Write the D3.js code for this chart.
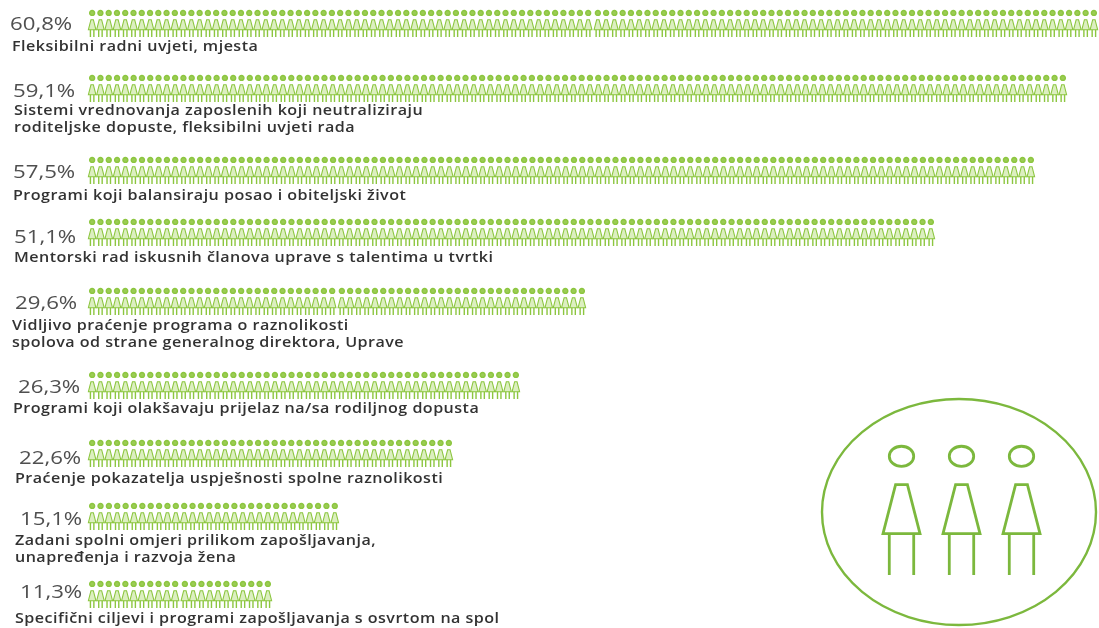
<!DOCTYPE html>
<html>
<head>
<meta charset="utf-8">
<script src="https://cdn.jsdelivr.net/npm/d3@7"></script>
<style>
body { margin: 0; background: #fff; }
svg { display: block; }
text { font-family: "Open Sans", sans-serif; }
.pct { font-size: 19px; fill: #505050; }
.lbl { font-size: 14px; font-weight: 600; fill: #333; letter-spacing: 0.4px; }
</style>
</head>
<body>
<svg id="viz" width="1099" height="628"></svg>
<script>
var percents = ["60,8%", "59,1%", "57,5%", "51,1%", "29,6%", "26,3%", "22,6%", "15,1%", "11,3%"];
// number of little figures counted in each row
var figures = [122, 118, 114, 102, 60, 52, 44, 30, 22];
// figure after which a row shows a small gap, 0 = none visible
var gapAfter = [61, 0, 0, 0, 30, 0, 0, 0, 11];
var labels = [
    ["Fleksibilni radni uvjeti, mjesta"],
    ["Sistemi vrednovanja zaposlenih koji neutraliziraju", "roditeljske dopuste, fleksibilni uvjeti rada"],
    ["Programi koji balansiraju posao i obiteljski život"],
    ["Mentorski rad iskusnih članova uprave s talentima u tvrtki"],
    ["Vidljivo praćenje programa o raznolikosti", "spolova od strane generalnog direktora, Uprave"],
    ["Programi koji olakšavaju prijelaz na/sa rodiljnog dopusta"],
    ["Praćenje pokazatelja uspješnosti spolne raznolikosti"],
    ["Zadani spolni omjeri prilikom zapošljavanja,", "unapređenja i razvoja žena"],
    ["Specifični ciljevi i programi zapošljavanja s osvrtom na spol"]
];
var iconPeople = [0, 1, 2];

// layout of the rows, the source image is not evenly spaced
var rowTop = [10, 75, 157, 219, 288, 372, 440, 503, 581];
var rowRight = [1098, 1067, 1035, 935, 586, 520, 453, 339, 272];
var pctBase = [30, 97, 178, 243, 309, 393, 464, 525, 598];
var pctLeft = [10, 13, 13, 14, 15, 18, 19, 20, 20];
var lblBase = [51, 115, 200, 262, 330, 413, 483, 545, 623];
var lblLeft = [12, 14, 13, 14, 12, 13, 15, 15, 15];

var GREEN = "#8cc63f";
var ICON_GREEN = "#7cb83e";
var svg = d3.select("#viz");
var defs = svg.append("defs");
defs.append("filter").attr("id", "soft").append("feGaussianBlur").attr("stdDeviation", 0.5);
defs.append("filter").attr("id", "softer").append("feGaussianBlur").attr("stdDeviation", 0.4);

var rows = d3.range(percents.length);
var yTop = d3.scaleOrdinal().domain(rows).range(rowTop);

// shape: torso top, hem and leg position as fractions of the figure
function person(g, w, h, sw, shape) {
    var body = d3.line();
    var inset = shape.leg;
    g.append("ellipse")
        .attr("class", "head")
        .attr("cx", w / 2)
        .attr("cy", h * shape.headY)
        .attr("rx", w * 0.33)
        .attr("ry", h * shape.headR);
    g.append("path").attr("class", "torso").attr("d", body([
        [w * 0.34, h * shape.torso], [w * 0.66, h * shape.torso], [w, h * shape.hem], [0, h * shape.hem]
    ]) + "Z");
    g.append("path").attr("d", body([[w * inset, h * shape.hem], [w * inset, h]]));
    g.append("path").attr("d", body([[w * (1 - inset), h * shape.hem], [w * (1 - inset), h]]));
    g.attr("fill", "none").attr("stroke", GREEN).attr("stroke-width", sw);
}

var smallShape = { headY: 0.11, headR: 0.09, torso: 0.36, hem: 0.73, leg: 0.27 };
var bigShape = { headY: 0.08, headR: 0.078, torso: 0.3, hem: 0.68, leg: 0.17 };

var chart = svg.append("g").attr("filter", "url(#soft)");
rows.forEach(function (r) {
    var row = chart.append("g");
    var x = d3.scaleLinear().domain([0, figures[r]]).range([88, rowRight[r] - (gapAfter[r] ? 1.4 : 0)]);
    d3.range(figures[r]).forEach(function (i) {
        var gap = gapAfter[r] && i >= gapAfter[r] ? 1.4 : 0;
        var g = row.append("g")
            .attr("transform", "translate(" + (x(i) + gap + 0.4) + "," + yTop(r) + ")");
        person(g, 7.5, 27, 1.4, smallShape);
        g.select(".head").attr("fill", "#9ccc55");
        g.select(".torso").attr("fill", "#dcefc0").attr("stroke-width", 1.1);
    });
});

var txt = svg.append("g").attr("filter", "url(#softer)");
rows.forEach(function (r) {
    txt.append("text")
        .attr("class", "pct")
        .attr("transform", "translate(" + pctLeft[r] + "," + pctBase[r] + ") scale(1.17,1)")
        .text(percents[r]);
    labels[r].forEach(function (line, i) {
        // source image is stretched sideways
        txt.append("text")
            .attr("class", "lbl")
            .attr("transform", "translate(" + lblLeft[r] + "," + (lblBase[r] + i * 17) + ") scale(1.15,1)")
            .text(line);
    });
});

// big icon in the corner
var icon = svg.append("g").attr("filter", "url(#softer)");
icon.append("ellipse")
    .attr("cx", 959).attr("cy", 512).attr("rx", 137).attr("ry", 113)
    .attr("fill", "none").attr("stroke", ICON_GREEN).attr("stroke-width", 2.4);
var iconX = d3.scalePoint().domain(iconPeople).range([883, 1003]);
iconPeople.forEach(function (p) {
    var g = icon.append("g").attr("transform", "translate(" + iconX(p) + ",446)");
    person(g, 37, 129, 2.8, bigShape);
    g.attr("stroke", ICON_GREEN);
});
</script>
</body>
</html>
